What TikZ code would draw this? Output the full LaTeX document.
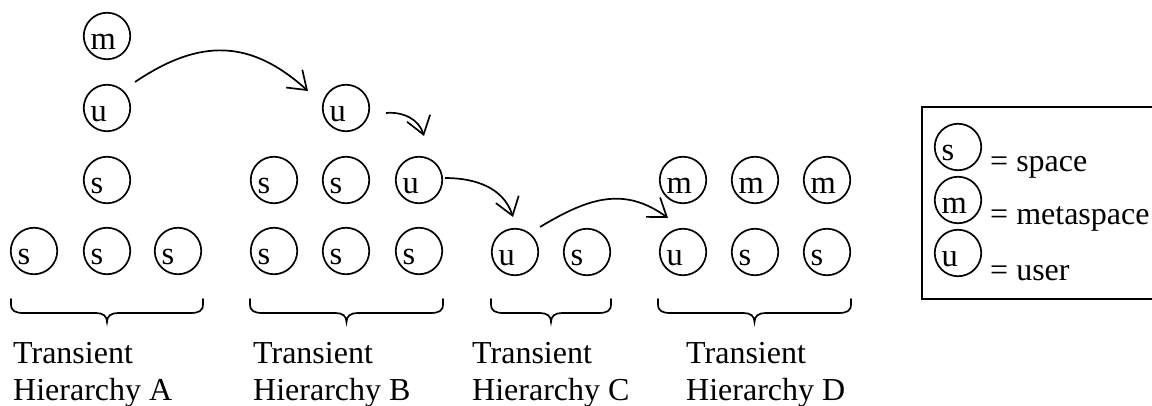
\documentclass[tikz,border=0pt]{standalone}
\usepackage{fontspec}
\setmainfont{Liberation Serif}
\usetikzlibrary{arrows.meta}
\newcommand\ringnode[4]{%
  \node[ring] (#1) at (#2,-#3) {};
  \node[letter] (#1-l) at ([shift={(-16.5,-14)}]#1.center) {#4};}
\newcommand\hbrace[3]{%
  \pgfmathsetmacro\xm{(#1+#2)/2}%
  \draw[bracestyle] (#1,-#3) -- (#1,-#3-5)
    .. controls (#1,-#3-12) and (#1+4,-#3-14) .. (#1+13,-#3-14)
    -- (\xm-11,-#3-14)
    .. controls (\xm-4,-#3-14) and (\xm,-#3-17) .. (\xm,-#3-23)
    .. controls (\xm,-#3-17) and (\xm+4,-#3-14) .. (\xm+11,-#3-14)
    -- (#2-13,-#3-14)
    .. controls (#2-4,-#3-14) and (#2,-#3-12) .. (#2,-#3-5)
    -- (#2,-#3);}
\tikzset{
  ring/.style={circle, draw, line width=1.7pt, minimum size=46.5pt, inner sep=0pt},
  letter/.style={anchor=base west, inner sep=0pt, font=\fontsize{32.5}{37}\selectfont},
  lbl/.style={anchor=base west, inner sep=0pt, font=\fontsize{32}{37}\selectfont},
  bracestyle/.style={line width=1.7pt, line cap=round},
  arr/.style={line width=1.7pt, -{Straight Barb[length=17pt, width=24pt]}},
}
\begin{document}
\begin{tikzpicture}[x=1pt, y=1pt]
\useasboundingbox (0,0) rectangle (1152,-406);
\clip (0,0) rectangle (1152,-406);
% Hierarchy A
\ringnode{mA}{107}{36}{m}
\ringnode{uA}{107}{108}{u}
\ringnode{sA}{107}{180}{s}
\ringnode{sA1}{34}{251}{s}
\ringnode{sA2}{107}{251}{s}
\ringnode{sA3}{178}{251}{s}
% Hierarchy B
\ringnode{uB}{346}{108}{u}
\ringnode{sB1}{274}{180}{s}
\ringnode{sB2}{346}{180}{s}
\ringnode{uBm}{419}{180}{u}
\ringnode{sB3}{274}{251}{s}
\ringnode{sB4}{346}{251}{s}
\ringnode{sB5}{419}{251}{s}
% Hierarchy C
\ringnode{uC}{515}{252}{u}
\ringnode{sC}{587}{252}{s}
% Hierarchy D
\ringnode{mD1}{683}{180}{m}
\ringnode{mD2}{755}{180}{m}
\ringnode{mD3}{827}{180}{m}
\ringnode{uD}{683}{252}{u}
\ringnode{sD1}{755}{252}{s}
\ringnode{sD2}{827}{252}{s}
% arrows
\draw[arr] ([shift={(28,26)}]uA.center) to[out=34, in=138, looseness=1.15] ([shift={(-38,17)}]uB.center);
\draw[arr] ([shift={(40,-5)}]uB.center) to[out=5, in=107] ([shift={(5,44)}]uBm.center);
\draw[arr] ([shift={(26,2)}]uBm.center) to[out=0, in=108] ([shift={(-2,35)}]uC.center);
\draw[arr] ([shift={(25,25)}]uC.center) to[out=31, in=144, looseness=1.1] ([shift={(-15,34)}]uD.center);
% braces
\hbrace{11}{203}{299}
\hbrace{250}{443}{299}
\hbrace{491}{611}{299}
\hbrace{658}{851}{299}
% labels
\node[lbl] (tA) at (13,-363) {Transient};
\node[lbl] (hA) at (13,-400) {Hierarchy A};
\node[lbl] (tB) at (253,-363) {Transient};
\node[lbl] (hB) at (253,-400) {Hierarchy B};
\node[lbl] (tC) at (472,-363) {Transient};
\node[lbl] (hC) at (472,-400) {Hierarchy C};
\node[lbl] (tD) at (686,-363) {Transient};
\node[lbl] (hD) at (686,-400) {Hierarchy D};
% legend
\draw[line width=1.8pt] (1160,-107) -- (922,-107) -- (922,-299) -- (1160,-299);
\ringnode{lgS}{958}{147}{s}
\ringnode{lgM}{958}{200}{m}
\ringnode{lgU}{958}{253}{u}
\node[lbl] (lgSt) at (990,-172) {= space};
\node[lbl] (lgMt) at (990,-225) {= metaspace};
\node[lbl] (lgUt) at (990,-280) {= user};
\end{tikzpicture}
\end{document}
